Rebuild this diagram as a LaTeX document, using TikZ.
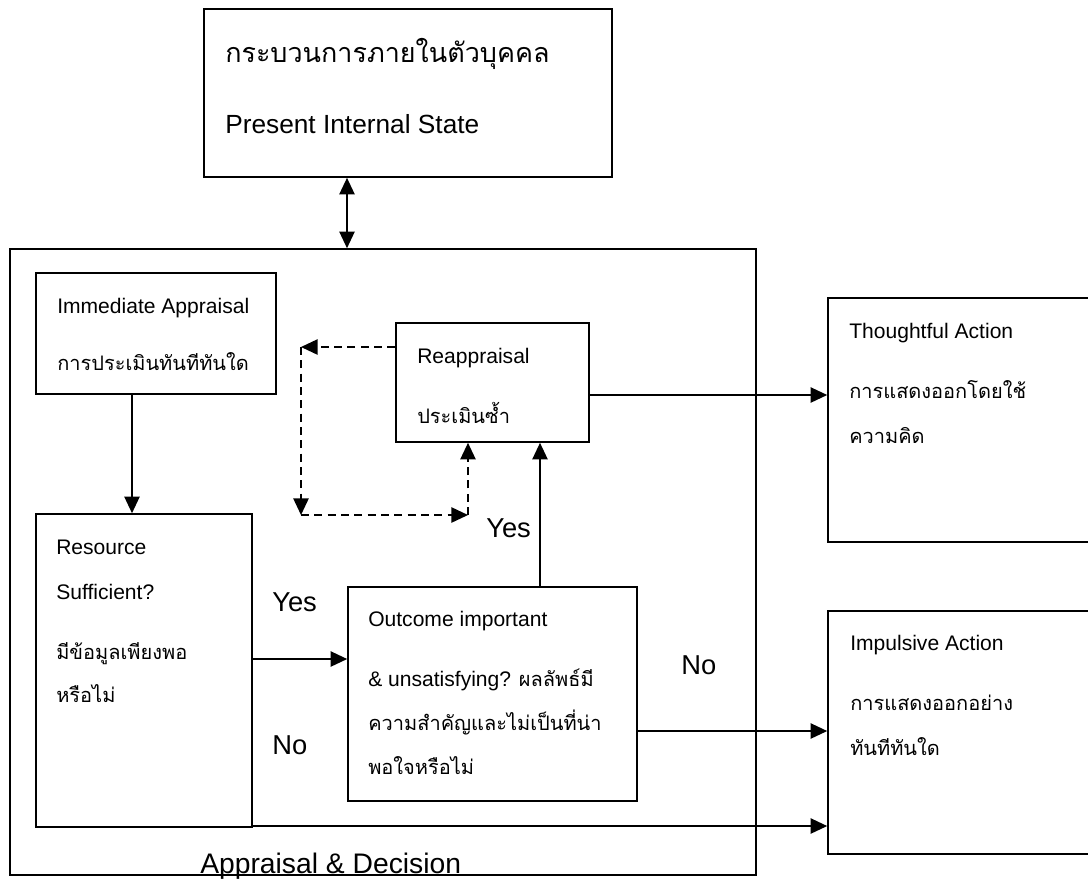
\documentclass[tikz,border=0pt]{standalone}
\usepackage{fontspec}
\setmainfont{Liberation Sans}
\newfontfamily\thaifont[Script=Thai]{Loma}
\usetikzlibrary{arrows.meta,fit,calc}

\begin{document}
\begin{tikzpicture}[x=0.75pt,y=-0.75pt,
  box/.style={draw,line width=1.2pt,inner sep=0pt},
  tip/.tip={Triangle[length=12.5pt,width=11.5pt]},
  arr/.style={line width=1.2pt,-tip},
  dbl/.style={line width=1.2pt,tip-tip},
  darr/.style={line width=1.2pt,dash pattern=on 6pt off 4pt,-tip},
  txt/.style={anchor=base west,inner sep=0pt,font=\fontsize{15.8pt}{18pt}\selectfont},
  th/.style={anchor=base west,inner sep=0pt,font=\fontsize{15pt}{17pt}\selectfont\thaifont},
  lbl/.style={anchor=base west,inner sep=0pt,font=\fontsize{20.5pt}{24pt}\selectfont}]
\clip (0,0) rectangle (1088,879);

% boxes
\node[box,fit={(204,9) (612,177)}] (top) {};
\node[box,fit={(10,249) (756,875)}] (big) {};
\node[box,fit={(36,273) (276,394)}] (imm) {};
\node[box,fit={(36,514) (252,827)}] (res) {};
\node[box,fit={(396,323) (589,442)}] (reap) {};
\node[box,fit={(348,587) (637,801)}] (out) {};
\node[box,fit={(828,298) (1096,542)}] (tho) {};
\node[box,fit={(828,611) (1096,854)}] (imp) {};

% texts
\node[anchor=base west,inner sep=0pt,font=\fontsize{20.2pt}{24pt}\selectfont\thaifont] (t1) at (225,62) {กระบวนการภายในตัวบุคคล};
\node[anchor=base west,inner sep=0pt,font=\fontsize{19.7pt}{23pt}\selectfont] (t2) at (225,133) {Present Internal State};

\node[txt] (i1) at (57,313) {Immediate Appraisal};
\node[th] (i2) at (57,370) {การประเมินทันทีทันใด};

\node[txt] (r1) at (417,363) {Reappraisal};
\node[th] (r2) at (417,423) {ประเมินซ้ำ};

\node[txt] (h1) at (849,338) {Thoughtful Action};
\node[th] (h2) at (849,398) {การแสดงออกโดยใช้};
\node[th] (h3) at (849,443) {ความคิด};

\node[txt] (s1) at (56,554) {Resource};
\node[txt] (s2) at (56,599) {Sufficient?};
\node[th] (s3) at (56,659) {มีข้อมูลเพียงพอ};
\node[th] (s4) at (56,702) {หรือไม่};

\node[txt] (o1) at (368,626) {Outcome important};
\node[txt] (o2) at (368,686) {\& unsatisfying? {\thaifont\fontsize{15pt}{17pt}\selectfont ผลลัพธ์มี}};
\node[th] (o3) at (368,730) {ความสำคัญและไม่เป็นที่น่า};
\node[th] (o4) at (368,774) {พอใจหรือไม่};

\node[txt] (m1) at (850,650) {Impulsive Action};
\node[th] (m2) at (850,710) {การแสดงออกอย่าง};
\node[th] (m3) at (850,755) {ทันทีทันใด};

\node[lbl] (yes1) at (486,537) {Yes};
\node[lbl] (yes2) at (272,611) {Yes};
\node[lbl] (no1) at (681,674) {No};
\node[lbl] (no2) at (272,754) {No};
\node[anchor=base west,inner sep=0pt,font=\fontsize{21.2pt}{25pt}\selectfont] (cap) at (200,873) {Appraisal \& Decision};

% connector guides
\coordinate (xa) at (347,0);
\coordinate (xb) at (132,0);
\coordinate (xc) at (540,0);
\coordinate (ya) at (0,659);
\coordinate (yb) at (0,395);
\coordinate (yc) at (0,731);
\coordinate (yd) at (0,826);
\coordinate (ye) at (0,347);
\coordinate (d1) at (301,347);
\coordinate (d2) at (301,515);
\coordinate (d3) at (468,515);

% solid connectors
\draw[dbl] (top.south -| xa) -- (big.north -| xa);
\draw[arr] (imm.south -| xb) -- (res.north -| xb);
\draw[arr] (res.east |- ya) -- (out.west |- ya);
\draw[arr] (out.north -| xc) -- (reap.south -| xc);
\draw[arr] (reap.east |- yb) -- (tho.west |- yb);
\draw[arr] (out.east |- yc) -- (imp.west |- yc);
\draw[arr] (res.east |- yd) -- (imp.west |- yd);

% dashed loop
\draw[darr] (reap.west |- ye) -- (d1);
\draw[darr] (d1) -- (d2);
\draw[darr] (d2) -- (d3);
\draw[darr] (d3) -- (reap.south -| d3);
\end{tikzpicture}
\end{document}
